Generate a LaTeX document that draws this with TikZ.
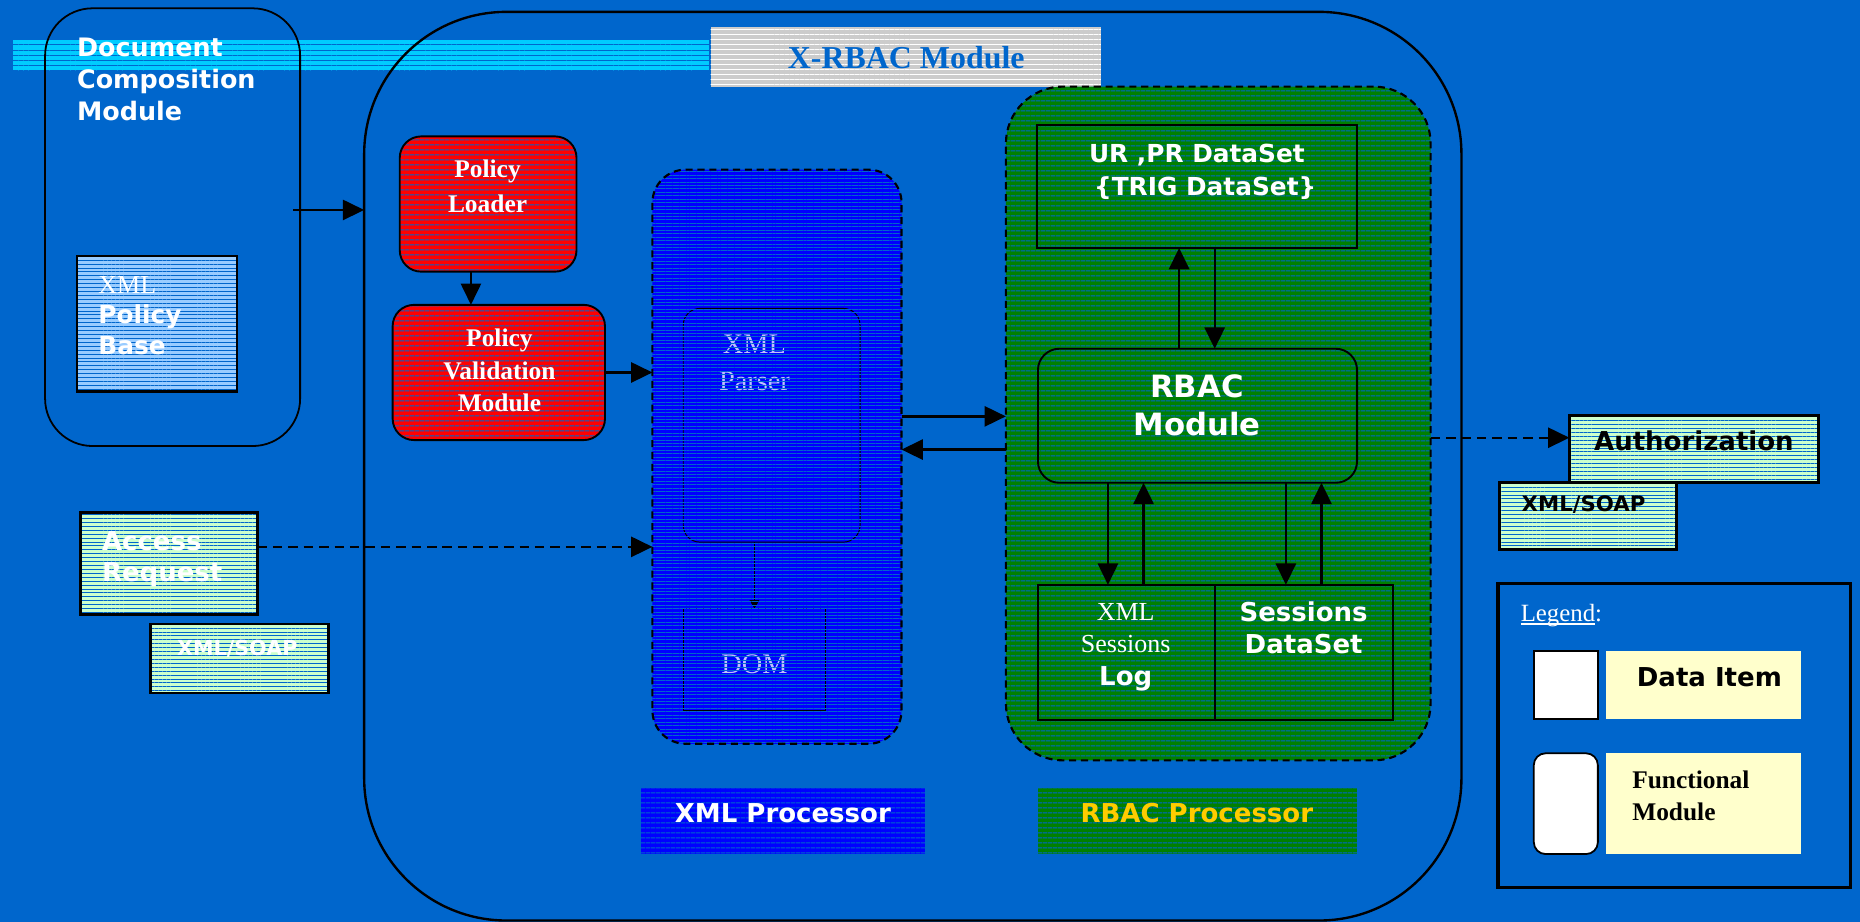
\documentclass[tikz,border=0pt]{standalone}
\usepackage{fontspec}
\setmainfont{Liberation Serif}
\newfontfamily\vsans{DejaVu Sans}
\usetikzlibrary{arrows.meta,patterns.meta,calc}
\definecolor{bg}{RGB}{0,102,204}
\definecolor{xblue}{RGB}{0,0,255}
\definecolor{rgreen}{RGB}{0,128,0}
\definecolor{lgreen}{RGB}{204,255,204}
\definecolor{lblue}{RGB}{153,204,255}
\definecolor{cyanband}{RGB}{0,204,255}
\definecolor{greybox}{RGB}{204,204,204}
\definecolor{lyellow}{RGB}{255,255,204}
\definecolor{gold}{RGB}{255,204,0}
\newcommand\sfb[1]{\fontsize{#1}{#1}\vsans\bfseries}
\newcommand\serr[1]{\fontsize{#1}{#1}\rmfamily\mdseries}
\newcommand\serb[1]{\fontsize{#1}{#1}\rmfamily\bfseries}
\newcommand\myul[1]{\setbox0\hbox{#1}\rlap{\rule[-2.6bp]{\wd0}{1.2bp}}\box0}
\tikzset{
  plain/.style={rectangle, inner sep=0pt, outer sep=0pt},
  box/.style={plain, draw=black, line width=1.6bp},
  stripes/.style 2 args={preaction={fill=#1}, pattern={Lines[angle=0,distance=#2,line width=0.75bp]}, pattern color=bg},
  wt/.style={text=white, inner sep=0pt, outer sep=0pt},
  bt/.style={text=black, inner sep=0pt, outer sep=0pt},
  arr/.style={-{Triangle[length=18bp,width=17bp]}, line width=2bp, draw=black},
  darr/.style={arr, dash pattern=on 8bp off 5bp},
  dashedbox/.style={draw=black, line width=1.8bp, dash pattern=on 6bp off 4bp}
}
\begin{document}
\begin{tikzpicture}[x=1bp,y=-1bp]
\useasboundingbox (0,0) rectangle (1568,777);
\fill[bg] (0,0) rectangle (1568,777);

% cyan band and title box
\node[plain, minimum width=587bp, minimum height=26bp, preaction={fill=cyanband}, pattern={Lines[angle=0,distance=4.4bp,line width=0.8bp]}, pattern color=bg] (band) at (304.5,47) {};
\node[plain, minimum width=329bp, minimum height=50bp, preaction={fill=greybox}, pattern={Lines[angle=0,distance=4.2bp,line width=1bp]}, pattern color=white] (xrl) at (763.5,48) {};
\node[font=\serb{27}, text=bg, inner sep=0pt, anchor=base] (xrlt) at (764,58) {X-RBAC Module};

% outer boxes
\node[box, line width=1.5bp, rounded corners=40bp, minimum width=215bp, minimum height=369bp] (dcm) at (145.5,191.5) {};
\node[box, line width=2bp, rounded corners=120bp, minimum width=925bp, minimum height=766bp] (xrbac) at (769.5,393) {};

\node[wt, font=\sfb{21.5}, anchor=base west] (t1) at (65,48) {Document};
\node[wt, font=\sfb{21.5}, anchor=base west] (t2) at (65,75) {Composition};
\node[wt, font=\sfb{21.5}, anchor=base west] (t3) at (65,102) {Module};

% XML Policy Base
\node[box, line width=2bp, minimum width=135bp, minimum height=114bp, stripes={lblue}{3.3bp}] (xpb) at (132.5,273) {};
\node[wt, font=\serr{22}, anchor=base west] (t4) at (83,247) {XML};
\node[wt, font=\sfb{21}, anchor=base west] (t5) at (83,273) {Policy};
\node[wt, font=\sfb{21}, anchor=base west] (t6) at (83,299) {Base};

% Policy loader / validation
\node[box, rounded corners=18bp, minimum width=149bp, minimum height=114bp, stripes={red}{3.9bp}] (pl) at (411.5,172) {};
\node[wt, font=\serb{21.5}, anchor=base] (t7) at (411,150) {Policy};
\node[wt, font=\serb{21.5}, anchor=base] (t8) at (411,179) {Loader};
\node[box, rounded corners=18bp, minimum width=179bp, minimum height=114bp, stripes={red}{3.9bp}] (pv) at (420.5,314) {};
\node[wt, font=\serb{21.5}, anchor=base] (t9) at (421,292) {Policy};
\node[wt, font=\serb{21.5}, anchor=base] (t10) at (421,320) {Validation};
\node[wt, font=\serb{21.5}, anchor=base] (t11) at (421,347) {Module};

% XML processor
\node[plain, rounded corners=28bp, minimum width=210bp, minimum height=484bp, fill=xblue] (xp) at (655,385) {};
\node[plain, draw=black, line width=0.8bp, rounded corners=14bp, minimum width=149bp, minimum height=197bp] (parser) at (650.5,358.5) {};
\node[plain, draw=black, line width=0.8bp, minimum width=120bp, minimum height=86bp] (dom) at (636,556) {};
\node[wt, text opacity=0.75, font=\serr{24}, anchor=base] (t12) at (636,298) {XML};
\node[wt, text opacity=0.75, font=\serr{24}, anchor=base] (t13) at (636,329) {Parser};
\node[wt, text opacity=0.75, font=\serr{24}, anchor=base] (t14) at (636,568) {DOM};
\coordinate (x636) at (636,0);
\draw[line width=0.8bp, -{Triangle[length=7bp,width=8bp]}] (parser.south -| x636) -- (dom.north -| x636);
\path[pattern={Lines[angle=0,distance=2.9bp,line width=0.8bp]}, pattern color=bg, rounded corners=28bp] (xp.north west) rectangle (xp.south east);
\draw[dashedbox, rounded corners=28bp] (xp.north west) rectangle (xp.south east);

% RBAC processor
\node[plain, dashedbox, rounded corners=48bp, minimum width=358bp, minimum height=568bp, stripes={rgreen}{3.9bp}] (rp) at (1027,357) {};
\node[box, minimum width=270bp, minimum height=104bp] (ur) at (1009,157) {};
\node[wt, font=\sfb{21}, anchor=base] (t15) at (1009,137) {UR ,PR DataSet};
\node[wt, font=\sfb{21}, anchor=base] (t16) at (1016,165) {\{TRIG DataSet\}};
\node[box, rounded corners=18bp, minimum width=269bp, minimum height=113bp] (rm) at (1009.5,350.5) {};
\node[wt, font=\sfb{26}, anchor=base] (t17) at (1009,335) {RBAC};
\node[wt, font=\sfb{26}, anchor=base] (t18) at (1009,367) {Module};
\node[box, minimum width=149bp, minimum height=114bp] (log) at (949.5,550) {};
\node[box, minimum width=150bp, minimum height=114bp] (sds) at (1099,550) {};
\node[wt, font=\serr{22}, anchor=base] (t19) at (949,523) {XML};
\node[wt, font=\serr{22}, anchor=base] (t20) at (949,550) {Sessions};
\node[wt, font=\sfb{22}, anchor=base] (t21) at (949,578) {Log};
\node[wt, font=\sfb{22}, anchor=base] (t22) at (1099,524) {Sessions};
\node[wt, font=\sfb{22}, anchor=base] (t23) at (1099,551) {DataSet};

% processor labels
\node[plain, minimum width=240bp, minimum height=56bp, stripes={xblue}{3.9bp}] (xpl) at (660,692) {};
\node[wt, font=\sfb{22}, anchor=base] (t24) at (660,693) {XML Processor};
\node[plain, minimum width=269bp, minimum height=56bp, stripes={rgreen}{3.9bp}] (rpl) at (1009.5,692) {};
\node[font=\sfb{22}, text=gold, inner sep=0pt, anchor=base] (t25) at (1009,693) {RBAC Processor};

% access request
\node[box, line width=2bp, minimum width=149bp, minimum height=86bp, stripes={lgreen}{3.3bp}] (ar) at (142.5,475) {};
\node[wt, font=\sfb{22}, anchor=base west] (t26) at (86,464) {Access};
\node[wt, font=\sfb{22}, anchor=base west] (t27) at (86,490) {Request};
\node[box, line width=2bp, minimum width=150bp, minimum height=58bp, stripes={lgreen}{3.3bp}] (xs1) at (202,555) {};
\node[wt, font=\sfb{17.5}, anchor=base] (t28) at (200,553) {XML/SOAP};

% authorization
\node[box, line width=2.5bp, minimum width=210bp, minimum height=57bp, stripes={lgreen}{3.3bp}] (auth) at (1428,378.5) {};
\node[bt, font=\sfb{22}, anchor=base] (t29) at (1428,380) {Authorization};
\node[box, line width=2.5bp, minimum width=149bp, minimum height=56bp, stripes={lgreen}{3.3bp}] (xs2) at (1338.5,435) {};
\node[bt, font=\sfb{18}, anchor=base] (t30) at (1335,431) {XML/SOAP};

% legend
\node[box, line width=3bp, minimum width=297bp, minimum height=256bp] (leg) at (1411.5,620) {};
\node[wt, font=\serr{21}, anchor=base west] (t31) at (1282,524) {\myul{Legend}:};
\node[box, line width=1.5bp, fill=white, minimum width=54bp, minimum height=57bp] (lsq) at (1320,577.5) {};
\node[plain, fill=lyellow, minimum width=164bp, minimum height=57bp] (ly1) at (1436,577.5) {};
\node[bt, font=\sfb{22}, anchor=base] (t32) at (1441,579) {Data Item};
\node[box, line width=1.5bp, fill=white, rounded corners=10bp, minimum width=54bp, minimum height=85bp] (lrr) at (1320,677.5) {};
\node[plain, fill=lyellow, minimum width=164bp, minimum height=85bp] (ly2) at (1436,677.5) {};
\node[bt, font=\serb{21.5}, anchor=base west] (t33) at (1376,665) {Functional};
\node[bt, font=\serb{21.5}, anchor=base west] (t34) at (1376,692) {Module};

% connectors
\coordinate (y177) at (0,177);
\draw[arr] ([xshift=-6bp]dcm.east |- y177) -- (xrbac.west |- y177);
\coordinate (x397) at (397,0);
\draw[arr] (pl.south -| x397) -- (pv.north -| x397);
\draw[arr] (pv.east) -- (xp.west |- pv.east);
\coordinate (y351) at (0,351);
\coordinate (y379) at (0,379);
\draw[arr] (xp.east |- y351) -- (rp.west |- y351);
\draw[arr] (rp.west |- y379) -- (xp.east |- y379);
\coordinate (y461) at (0,461);
\draw[darr] (ar.east |- y461) -- (xp.west |- y461);
\coordinate (x994) at (994,0);
\coordinate (x1024) at (1024,0);
\draw[arr] (rm.north -| x994) -- (ur.south -| x994);
\draw[arr] (ur.south -| x1024) -- (rm.north -| x1024);
\coordinate (x934) at (934,0);
\coordinate (x964) at (964,0);
\coordinate (x1084) at (1084,0);
\coordinate (x1114) at (1114,0);
\draw[arr] (rm.south -| x934) -- (log.north -| x934);
\draw[arr] (log.north -| x964) -- (rm.south -| x964);
\draw[arr] (rm.south -| x1084) -- (sds.north -| x1084);
\draw[arr] (sds.north -| x1114) -- (rm.south -| x1114);
\coordinate (y369) at (0,369);
\draw[darr] (rp.east |- y369) -- (auth.west |- y369);
\end{tikzpicture}
\end{document}
